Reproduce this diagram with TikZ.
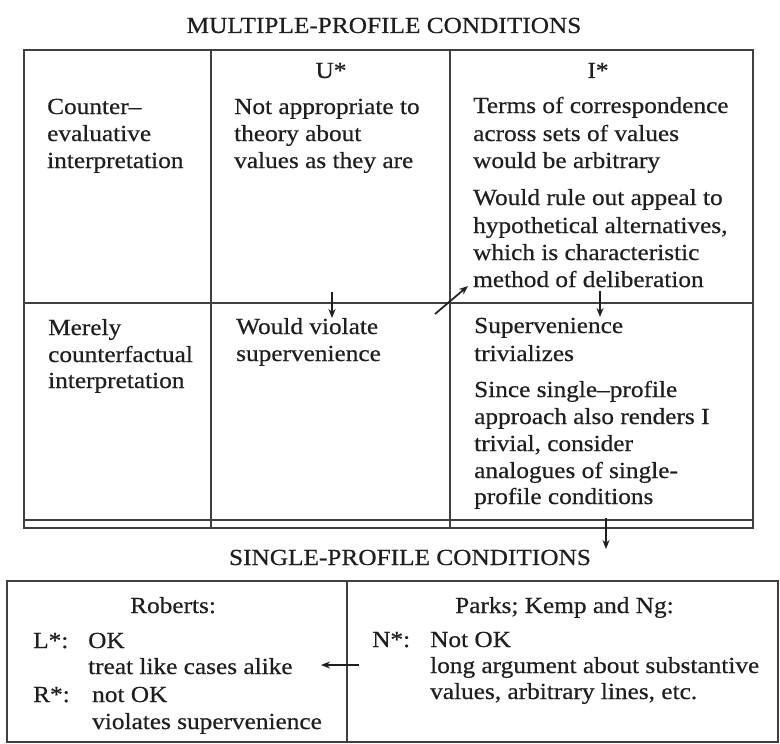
\documentclass[tikz,border=0pt]{standalone}
\usepackage{fontspec}
\setmainfont{Liberation Serif}[FakeStretch=1.1,FakeBold=0.5]
\usetikzlibrary{arrows.meta}
\begin{document}
\begin{tikzpicture}[x=1bp,y=-1bp,
  rule/.style={draw=black!75,line width=1.8bp},
  txt/.style={anchor=base west,inner sep=0pt,text=black!88,font=\fontsize{23bp}{27bp}\selectfont},
  ctxt/.style={anchor=base,inner sep=0pt,text=black!88,font=\fontsize{23bp}{27bp}\selectfont},
  arr/.style={draw=black!88,line width=1.7bp,-{Stealth[length=9bp,width=7bp]}}]
\useasboundingbox (0,0) rectangle (780,744);
\fill[white] (0,0) rectangle (780,744);
% titles
\node[ctxt] (t1) at (384,33) {MULTIPLE-PROFILE CONDITIONS};
\node[ctxt] (t2) at (410,565) {SINGLE-PROFILE CONDITIONS};
% top table
\draw[rule] (24,50) rectangle (753,528);
\draw[rule] (24,303) -- (753,303);
\draw[rule] (24,520) -- (753,520);
\draw[rule] (211,50) -- (211,528);
\draw[rule] (450,50) -- (450,528);
% bottom table
\draw[rule] (7,581) rectangle (778,742);
\draw[rule] (347,581) -- (347,742);
% headers
\node[ctxt] (u) at (331,78) {U*};
\node[ctxt] (i) at (598,78) {I*};
% column 1
\node[txt] (c1a) at (47,114) {Counter–};
\node[txt] (c1b) at (47,141) {evaluative};
\node[txt] (c1c) at (47,168) {interpretation};
\node[txt] (d1a) at (48,335) {Merely};
\node[txt] (d1b) at (48,362) {counterfactual};
\node[txt] (d1c) at (48,388) {interpretation};
% column 2
\node[txt] (c2a) at (234,114) {Not appropriate to};
\node[txt] (c2b) at (234,141) {theory about};
\node[txt] (c2c) at (234,168) {values as they are};
\node[txt] (d2a) at (236,334) {Would violate};
\node[txt] (d2b) at (236,361) {supervenience};
% column 3
\node[txt] (c3a) at (473,113) {Terms of correspondence};
\node[txt] (c3b) at (473,141) {across sets of values};
\node[txt] (c3c) at (473,168) {would be arbitrary};
\node[txt] (c3d) at (473,205) {Would rule out appeal to};
\node[txt] (c3e) at (473,233) {hypothetical alternatives,};
\node[txt] (c3f) at (473,260) {which is characteristic};
\node[txt] (c3g) at (473,287) {method of deliberation};
\node[txt] (d3a) at (474,333) {Supervenience};
\node[txt] (d3b) at (474,361) {trivializes};
\node[txt] (d3c) at (474,397) {Since single–profile};
\node[txt] (d3d) at (474,424) {approach also renders I};
\node[txt] (d3e) at (474,451) {trivial, consider};
\node[txt] (d3f) at (474,478) {analogues of single-};
\node[txt] (d3g) at (474,504) {profile conditions};
% bottom left
\node[txt] (rob) at (130,613) {Roberts:};
\node[txt] (l1) at (33,648) {L*:};
\node[txt] (l2) at (88,648) {OK};
\node[txt] (l3) at (88,674) {treat like cases alike};
\node[txt] (r1) at (33,702) {R*:};
\node[txt] (r2) at (92,702) {not OK};
\node[txt] (r3) at (92,729) {violates supervenience};
% bottom right
\node[txt] (pk) at (455,613) {Parks; Kemp and Ng:};
\node[txt] (n1) at (372,647) {N*:};
\node[txt] (n2) at (430,647) {Not OK};
\node[txt] (n3) at (430,673) {long argument about substantive};
\node[txt] (n4) at (430,699) {values, arbitrary lines, etc.};
% arrows
\coordinate (ua) at (332,292);
\coordinate (ub) at (332,318);
\coordinate (ia) at (600,291);
\coordinate (ib) at (600,317);
\coordinate (da) at (435,314);
\coordinate (db) at (468,286);
\coordinate (sa) at (606,518);
\coordinate (sb) at (606,549);
\coordinate (la) at (359,665);
\coordinate (lb) at (321,665);
\draw[arr] (ua) -- (ub);
\draw[arr] (ia) -- (ib);
\draw[arr] (da) -- (db);
\draw[arr] (sa) -- (sb);
\draw[arr] (la) -- (lb);
\end{tikzpicture}
\end{document}
